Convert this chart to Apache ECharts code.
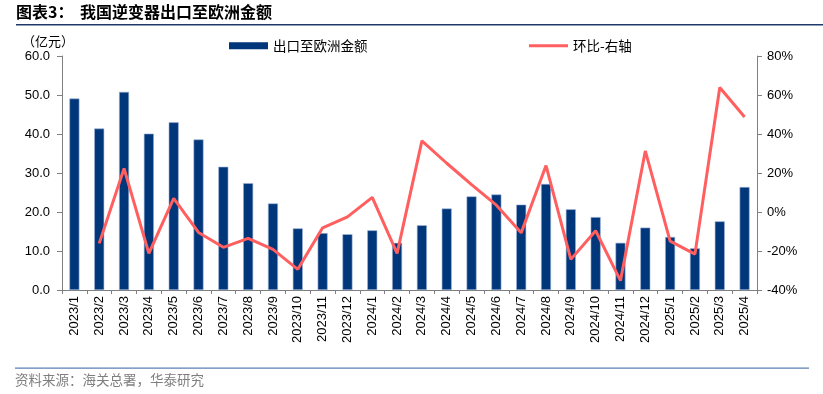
<!DOCTYPE html>
<html><head><meta charset="utf-8">
<script src="https://cdn.jsdelivr.net/npm/echarts@6/dist/echarts.min.js"></script>
<style>html,body{margin:0;padding:0;background:#fff}#c{width:823px;height:394px}</style>
</head><body><div id="c"></div>
<script>
const categories = ['2023/1','2023/2','2023/3','2023/4','2023/5','2023/6','2023/7','2023/8','2023/9','2023/10','2023/11','2023/12',
'2024/1','2024/2','2024/3','2024/4','2024/5','2024/6','2024/7','2024/8','2024/9','2024/10','2024/11','2024/12','2025/1','2025/2','2025/3','2025/4'];
const exportValues = [49.1,41.4,50.8,40.1,43.0,38.6,31.6,27.4,22.2,15.8,14.6,14.3,15.3,12.1,16.6,20.9,24.0,24.5,21.9,27.2,20.7,18.7,12.1,16.0,13.6,10.7,17.6,26.4];
const momValues = [null,-16.1,22.3,-21.2,7.0,-10.5,-18.1,-13.5,-19.2,-29.4,-8.1,-2.5,7.5,-21.2,36.5,25,14,3.5,-10.7,23.8,-24.3,-9.6,-35.2,31.3,-14.9,-21.6,63.8,48.7];
const leftTicks = {min:0, max:60, interval:10};
const rightTicks = {min:-40, max:80, interval:20};

const latin = '"Liberation Sans", Arial, sans-serif';
const cjk = '"Noto Sans CJK SC", sans-serif';
const chart = echarts.init(document.getElementById('c'), null, {renderer:'canvas'});
chart.setOption({
  animation:false,
  backgroundColor:'#fff',
  graphic:[
    {type:'text', left:16, top:4, style:{text:'图表3：', font:'bold 16px '+cjk, fill:'#000'}},
    {type:'text', left:80, top:4, style:{text:'我国逆变器出口至欧洲金额', font:'bold 16px '+cjk, fill:'#000'}},
    {type:'rect', shape:{x:16, y:24, width:807, height:1.5}, style:{fill:'#1F3A68'}},
    {type:'text', left:22, top:35, style:{text:'（亿元）', font:'13px '+cjk, fill:'#000'}},
    {type:'rect', shape:{x:15, y:367.5, width:794, height:1.2}, style:{fill:'#5B80B4'}},
    {type:'text', left:15, top:373, style:{text:'资料来源：海关总署，华泰研究', font:'13.5px '+cjk, fill:'#7F7F7F'}}
  ],
  legend:[
    {data:['出口至欧洲金额'], left:224, top:34, itemWidth:39, itemHeight:7, itemGap:5, icon:'rect',
     itemStyle:{borderWidth:0},
     textStyle:{fontFamily:cjk, fontSize:13.5, color:'#000'}},
    {data:[{name:'环比-右轴', icon:'rect'}], left:524, top:34, itemWidth:39, itemHeight:3, itemGap:5,
     textStyle:{fontFamily:cjk, fontSize:13.5, color:'#000'}}
  ],
  grid:{left:62, right:66, top:56, bottom:104, containLabel:false},
  xAxis:{type:'category', data:categories, boundaryGap:true,
    axisLine:{lineStyle:{color:'#808080', width:1}},
    axisTick:{show:true, length:4, alignWithLabel:false, lineStyle:{color:'#808080'}},
    axisLabel:{rotate:90, interval:0, fontFamily:latin, fontSize:13, color:'#000', margin:6}},
  yAxis:[
    {type:'value', min:leftTicks.min, max:leftTicks.max, interval:leftTicks.interval, position:'left',
     axisLine:{show:true, lineStyle:{color:'#808080'}}, axisTick:{show:true, inside:false, length:5, lineStyle:{color:'#808080'}},
     splitLine:{show:false},
     axisLabel:{formatter:v=>v.toFixed(1), fontFamily:latin, fontSize:13, color:'#000', margin:12}},
    {type:'value', min:rightTicks.min, max:rightTicks.max, interval:rightTicks.interval, position:'right',
     axisLine:{show:true, lineStyle:{color:'#808080'}}, axisTick:{show:true, length:5, lineStyle:{color:'#808080'}},
     splitLine:{show:false},
     axisLabel:{formatter:'{value}%', fontFamily:latin, fontSize:13, color:'#000', margin:10}}
  ],
  series:[
    {name:'出口至欧洲金额', type:'bar', data:exportValues, yAxisIndex:0, barWidth:10,
     itemStyle:{color:'#00367A', borderColor:'#9DB3D6', borderWidth:0.6}},
    {name:'环比-右轴', type:'line', data:momValues, yAxisIndex:1, symbol:'none', connectNulls:false,
     lineStyle:{color:'#FF5F5F', width:3}, itemStyle:{color:'#FF5F5F'}}
  ]
});
</script></body></html>
